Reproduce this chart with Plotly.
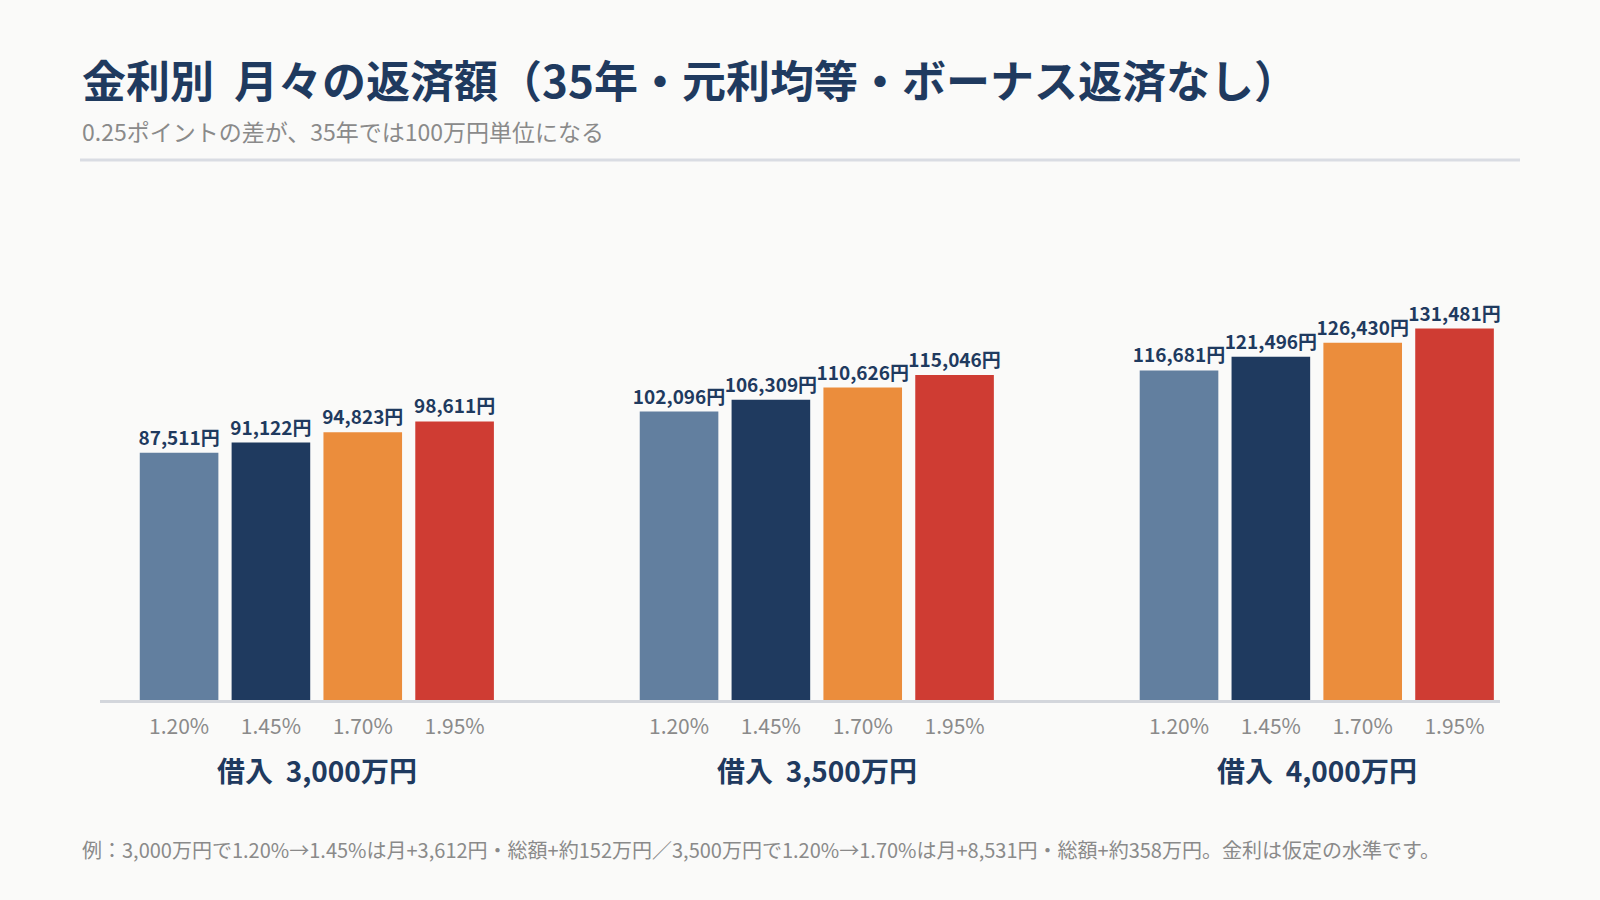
import plotly.graph_objects as go

# 借入額ごとの月々の返済額（35年・元利均等）
loans = ["借入  3,000万円", "借入  3,500万円", "借入  4,000万円"]
rates = ["1.20%", "1.45%", "1.70%", "1.95%"]
pay_120 = [87511, 102096, 116681]
pay_145 = [91122, 106309, 121496]
pay_170 = [94823, 110626, 126430]
pay_195 = [98611, 115046, 131481]

payments = [pay_120, pay_145, pay_170, pay_195]
colors = ["#627f9f", "#1f3a5f", "#eb8d3c", "#cf3c33"]

NAVY = "#1f3a5f"
GRAY = "#8a8a8a"
BG = "#fafaf9"
FONT = "Noto Sans CJK JP, sans-serif"

W, H = 1600, 900
L, R, T, B = 100, 100, 200, 200
pitch = 5.444  # group spacing in bar slots
bar_w = 0.856

fig = go.Figure()
tickvals, ticktext = [], []
for i, (rate, vals) in enumerate(zip(rates, payments)):
    xs = [g * pitch + i for g in range(len(loans))]
    tickvals += xs
    ticktext += [rate] * len(xs)
    fig.add_trace(go.Bar(
        x=xs, y=vals, name=rate, width=bar_w,
        marker=dict(color=colors[i], line=dict(width=0)),
        texttemplate="%{y:,}円", textposition="outside", constraintext="none",
        textfont=dict(family=FONT, size=19, color=NAVY, weight="bold"),
        cliponaxis=False, hoverinfo="skip",
    ))

ann = []
for g, name in enumerate(loans):
    ann.append(dict(x=g * pitch + 1.5, y=0, xref="x", yref="y", yshift=-70,
                    text=name, showarrow=False, yanchor="middle",
                    font=dict(family=FONT, size=28, color=NAVY, weight="bold")))

def py(px):
    return (H - B - px) / (H - T - B)

def pxx(px):
    return (px - L) / (W - L - R)

ann += [
    dict(x=pxx(80), y=py(79), xref="paper", yref="paper", xanchor="left", yanchor="middle",
         text="金利別  月々の返済額（35年・元利均等・ボーナス返済なし）", showarrow=False,
         font=dict(family=FONT, size=44, color=NAVY, weight="bold")),
    dict(x=pxx(80), y=py(131), xref="paper", yref="paper", xanchor="left", yanchor="middle",
         text="0.25ポイントの差が、35年では100万円単位になる", showarrow=False,
         font=dict(family=FONT, size=23, color=GRAY)),
    dict(x=pxx(80), y=py(849), xref="paper", yref="paper", xanchor="left", yanchor="middle",
         text="例：3,000万円で1.20%→1.45%は月+3,612円・総額+約152万円／3,500万円で1.20%→1.70%は月+8,531円・総額+約358万円。金利は仮定の水準です。",
         showarrow=False, font=dict(family=FONT, size=20, color=GRAY)),
]

fig.update_layout(
    width=W, height=H,
    margin=dict(l=L, r=R, t=T, b=B),
    paper_bgcolor=BG, plot_bgcolor=BG,
    showlegend=False, barmode="overlay",
    annotations=ann,
    shapes=[dict(type="line", xref="paper", yref="paper", x0=pxx(80), x1=pxx(1520),
                 y0=py(160), y1=py(160), line=dict(color="#d9dce3", width=3))],
    xaxis=dict(range=[-0.861, 14.383], tickvals=tickvals, ticktext=ticktext,
               showgrid=False, zeroline=False, showline=True, linecolor="#d3d6dc",
               linewidth=3, ticks="", ticklabelstandoff=6,
               tickfont=dict(family=FONT, size=21, color=GRAY)),
    yaxis=dict(range=[0, 177000], visible=False, showgrid=False, zeroline=False),
)

fig.write_html("out.html", config={"displayModeBar": False},
               post_script="document.body.style.margin='0';document.body.style.background='%s';" % BG)
